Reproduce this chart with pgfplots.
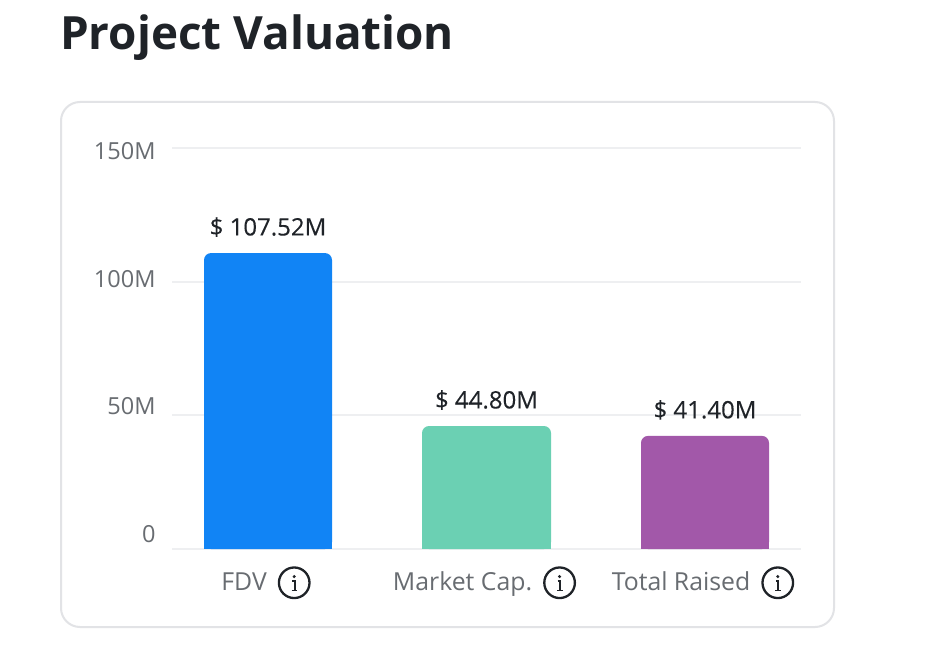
\documentclass[border=0pt]{standalone}
\usepackage{fontspec}
\usepackage{pgfplots}
\pgfplotsset{compat=1.18}
\setmainfont{Open Sans}
\newfontfamily\medfont[FakeBold=0.2]{Open Sans}
\definecolor{barblue}{RGB}{17,132,245}
\definecolor{bargreen}{RGB}{107,208,179}
\definecolor{barpurple}{RGB}{162,88,169}
\definecolor{inkdark}{RGB}{31,35,40}
\definecolor{inkgrey}{RGB}{104,108,113}
\definecolor{gridgrey}{RGB}{238,239,241}
\definecolor{cardgrey}{RGB}{226,227,230}
% info icon beside the category names
\newcommand{\infoicon}{\tikz[baseline={(0,-7.5pt)},x=1pt,y=1pt]{
  \draw[inkdark,line width=2.3pt] (0,0) circle (15.3);
  \fill[inkdark] (0,6.2) circle (1.7);
  \draw[inkdark,line width=2pt] (-2,1.6) -- (0.3,1.6) -- (0.3,-7.6);
  \draw[inkdark,line width=1.6pt] (-2.6,-7.6) -- (3.2,-7.6);
}}
\begin{document}
\begin{tikzpicture}
\path[use as bounding box,fill=white] (0pt,0pt) rectangle (925pt,665pt);
\draw[cardgrey,line width=2pt,rounded corners=19pt] (61pt,38pt) rectangle (834pt,563pt);
\node[anchor=base west,inner sep=0pt,text=inkdark] at (60pt,615pt)
  {\fontsize{45.8}{50}\selectfont\bfseries Project Valuation};
\begin{axis}[
    at={(172pt,116pt)},
    anchor=south west,
    scale only axis,
    width=629pt,
    height=401pt,
    xmin=-0.4394, xmax=2.4394,
    ymin=0, ymax=150,
    clip=false,
    axis line style={draw=none},
    tick style={draw=none},
    ymajorgrids=true,
    major grid style={gridgrey,line width=2pt},
    xtick={0,1,2},
    xticklabels={FDV\hspace{11pt}\infoicon,Market Cap.\hspace{11pt}\infoicon,Total Raised\hspace{11pt}\infoicon},
    xticklabel style={anchor=base,yshift=-37pt,xshift=-2pt,text=inkgrey,font=\fontsize{24.8}{28}\selectfont},
    ytick={0,50,100,150},
    yticklabels={0,50M,100M,150M},
    yticklabel style={anchor=east,xshift=-13pt,yshift={(15-6*\ticknum)*1pt},text=inkgrey,font=\fontsize{23.5}{26}\selectfont},
    ybar,
    bar width=128pt,
    bar shift=0pt,
    point meta=explicit symbolic,
    nodes near coords style={text=inkdark,font=\fontsize{24}{26}\medfont,anchor=center,yshift=26pt},
]
% full bars with rounded corners
\addplot[fill=barblue,draw=none,rounded corners=7pt,nodes near coords=\pgfplotspointmeta]
  coordinates {(0,110.7) [\$ 107.52M]};
\addplot[fill=bargreen,draw=none,bar width=129pt,rounded corners=7pt,nodes near coords=\pgfplotspointmeta]
  coordinates {(1,46.0) [\$ 44.80M]};
\addplot[fill=barpurple,draw=none,rounded corners=7pt,nodes near coords=\pgfplotspointmeta]
  coordinates {(2,42.3) [\$ 41.40M]};
% square feet under the same bars
\addplot[fill=barblue,draw=none] coordinates {(0,55)};
\addplot[fill=bargreen,draw=none,bar width=129pt] coordinates {(1,23)};
\addplot[fill=barpurple,draw=none] coordinates {(2,21)};
\end{axis}
\end{tikzpicture}
\end{document}
